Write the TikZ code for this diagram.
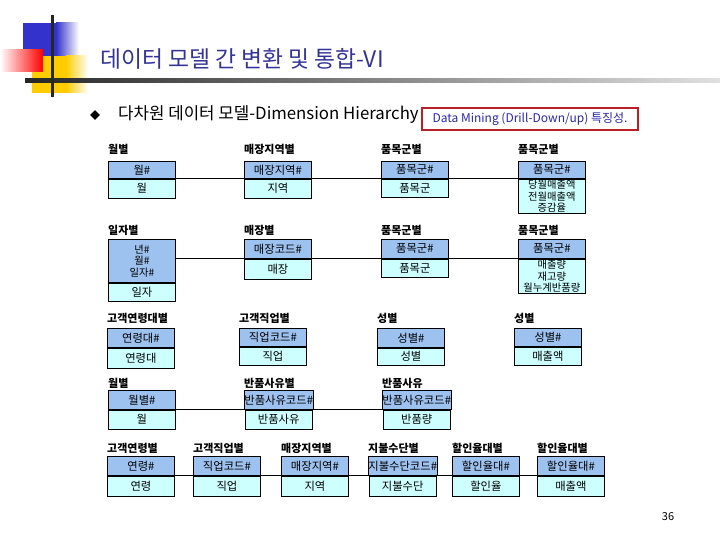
\documentclass[tikz,border=0pt]{standalone}
\usepackage{fontspec}
\setmainfont{Noto Sans CJK KR}
\usetikzlibrary{positioning,shapes.geometric}
\definecolor{hdblue}{RGB}{158,194,240}
\definecolor{bdcyan}{RGB}{206,255,255}
\definecolor{ttlblue}{RGB}{51,51,153}
\definecolor{dmblue}{RGB}{40,40,170}
\definecolor{dmred}{RGB}{190,30,40}
\definecolor{decoblue}{RGB}{51,51,204}
\definecolor{decogold}{RGB}{255,204,0}

\begin{document}
\begin{tikzpicture}[x=1pt,y=-1pt]
      \tikzstyle{hd}=[draw=black, line width=0.8pt, fill=hdblue, minimum width=67pt, minimum height=19pt, inner sep=0pt, anchor=north west, align=center, font=\fontsize{11.3}{11}\selectfont]
      \tikzstyle{bd}=[draw=black, line width=0.8pt, fill=bdcyan, minimum width=67pt, minimum height=19pt, inner sep=0pt, node distance=0pt, align=center, font=\fontsize{11.3}{11}\selectfont]
      \tikzstyle{multi}=[font=\fontsize{10.3}{11.4}\selectfont]
      \tikzstyle{ttl}=[anchor=west, inner sep=0pt, font=\bfseries\fontsize{11}{13}\selectfont]
      \tikzstyle{connect}=[line width=0.9pt]

      \useasboundingbox (0,0) rectangle (720,540);

      % slide decoration
      \fill[decoblue] (23,23) rectangle (56,56);
      \shade[left color=decoblue, right color=white] (56,23) rectangle (79,56);
      \fill[decogold] (32,56) rectangle (66,93);
      \shade[left color=decogold, right color=white] (66,56) rectangle (88,93);
      \shade[left color=white, right color=red] (0,50) rectangle (43,72);
      \shade[left color=black!85, right color=black!12] (25,79) rectangle (720,83);
      \draw[line width=3pt, black!85] (52,15) -- (52,97);

      \node[anchor=west, inner sep=0pt, text=ttlblue, font=\fontsize{22.8}{26}\selectfont] (title) at (100,59) {데이터 모델 간 변환 및 통합-VI};
      \node[diamond, fill=black, inner sep=0pt, minimum size=10pt] (blt) at (95,115) {};
      \node[anchor=west, inner sep=0pt, font=\fontsize{16.8}{19}\selectfont] (sub) at (118,115) {다차원 데이터 모델-Dimension Hierarchy};
      \node[draw=dmred, line width=1.2pt, minimum width=216pt, minimum height=22pt, inner sep=0pt, text=dmblue, font=\fontsize{12}{14}\selectfont] (dm) at (530,119) {Data Mining (Drill-Down/up) 특징성.};

      % row 1
      \node[ttl] (a1t) at (108,149) {월별};
      \node[ttl] (a2t) at (244,149) {매장지역별};
      \node[ttl] (a3t) at (381,149) {품목군별};
      \node[ttl] (a4t) at (518,149) {품목군별};
      \node[hd, minimum height=17pt] (a1h) at (108,161) {월\#};
      \node[bd, below=of a1h] (a1b) {월};
      \node[hd, minimum height=17pt] (a2h) at (244,161) {매장지역\#};
      \node[bd, below=of a2h] (a2b) {지역};
      \node[hd, minimum height=17pt] (a3h) at (381,161) {품목군\#};
      \node[bd, minimum height=18pt, below=of a3h] (a3b) {품목군};
      \node[hd, minimum height=17pt] (a4h) at (518,161) {품목군\#};
      \node[bd, multi, minimum height=34pt, below=of a4h] (a4b) {당월매출액\\전월매출액\\증감율};
      \draw[connect] (a1h.south east) -- (a2h.south west);
      \draw[connect] (a2h.south east) -- (a3h.south west);
      \draw[connect] (a3h.south east) -- (a4h.south west);

      % row 2
      \node[ttl] (b1t) at (108,230) {일자별};
      \node[ttl] (b2t) at (244,230) {매장별};
      \node[ttl] (b3t) at (381,230) {품목군별};
      \node[ttl] (b4t) at (518,230) {품목군별};
      \node[hd, multi, minimum height=43pt] (b1h) at (108,239) {년\#\\월\#\\일자\#};
      \node[bd, minimum height=18pt, below=of b1h] (b1b) {일자};
      \node[hd] (b2h) at (244,239) {매장코드\#};
      \node[bd, minimum height=20pt, below=of b2h] (b2b) {매장};
      \node[hd] (b3h) at (381,239) {품목군\#};
      \node[bd, minimum height=18pt, below=of b3h] (b3b) {품목군};
      \node[hd] (b4h) at (518,239) {품목군\#};
      \node[bd, multi, minimum height=34pt, below=of b4h] (b4b) {매출량\\재고량\\월누계반품량};
      \draw[connect] (b1h.east |- b2h.south) -- (b2h.south west);
      \draw[connect] (b2h.south east) -- (b3h.south west);
      \draw[connect] (b3h.south east) -- (b4h.south west);

      % row 3
      \node[ttl] (c1t) at (107,318) {고객연령대별};
      \node[ttl] (c2t) at (239,318) {고객직업별};
      \node[ttl] (c3t) at (377,318) {성별};
      \node[ttl] (c4t) at (514,318) {성별};
      \node[hd] (c1h) at (107,328) {연령대\#};
      \node[bd, minimum height=20pt, below=of c1h] (c1b) {연령대};
      \node[hd, minimum height=18pt] (c2h) at (239,328) {직업코드\#};
      \node[bd, minimum height=18pt, below=of c2h] (c2b) {직업};
      \node[hd] (c3h) at (377,328) {성별\#};
      \node[bd, minimum height=17pt, below=of c3h] (c3b) {성별};
      \node[hd, minimum height=18pt] (c4h) at (514,328) {성별\#};
      \node[bd, minimum height=18pt, below=of c4h] (c4b) {매출액};

      % row 4
      \node[ttl] (d1t) at (108,383) {월별};
      \node[ttl] (d2t) at (244,383) {반품사유별};
      \node[ttl] (d3t) at (382,383) {반품사유};
      \node[hd] (d1h) at (108,390) {월별\#};
      \node[bd, below=of d1h] (d1b) {월};
      \node[hd] (d2h) at (244,390) {반품사유코드\#};
      \node[bd, below=of d2h] (d2b) {반품사유};
      \node[hd] (d3h) at (382,390) {반품사유코드\#};
      \node[bd, below=of d3h] (d3b) {반품량};
      \draw[connect] (d1h.south east) -- (d2h.south west);
      \draw[connect] (d2h.south east) -- (d3h.south west);

      % row 5
      \node[ttl] (e1t) at (107,448) {고객연령별};
      \node[ttl] (e2t) at (193,448) {고객직업별};
      \node[ttl] (e3t) at (281,448) {매장지역별};
      \node[ttl] (e4t) at (368,448) {지불수단별};
      \node[ttl] (e5t) at (452,448) {할인율대별};
      \node[ttl] (e6t) at (537,448) {할인율대별};
      \node[hd] (e1h) at (107,456) {연령\#};
      \node[bd, minimum height=20pt, below=of e1h] (e1b) {연령};
      \node[hd] (e2h) at (193,456) {직업코드\#};
      \node[bd, minimum height=20pt, below=of e2h] (e2b) {직업};
      \node[hd] (e3h) at (281,456) {매장지역\#};
      \node[bd, minimum height=20pt, below=of e3h] (e3b) {지역};
      \node[hd] (e4h) at (368,456) {지불수단코드\#};
      \node[bd, minimum height=20pt, below=of e4h] (e4b) {지불수단};
      \node[hd] (e5h) at (452,456) {할인율대\#};
      \node[bd, minimum height=20pt, below=of e5h] (e5b) {할인율};
      \node[hd] (e6h) at (537,456) {할인율대\#};
      \node[bd, minimum height=20pt, below=of e6h] (e6b) {매출액};
      \draw[connect] (e1h.south east) -- (e2h.south west);
      \draw[connect] (e2h.south east) -- (e3h.south west);
      \draw[connect] (e3h.south east) -- (e4h.south west);
      \draw[connect] (e4h.south east) -- (e5h.south west);
      \draw[connect] (e5h.south east) -- (e6h.south west);

      \node[font=\fontsize{11}{13}\selectfont] (pg) at (668,517) {36};
\end{tikzpicture}
\end{document}
